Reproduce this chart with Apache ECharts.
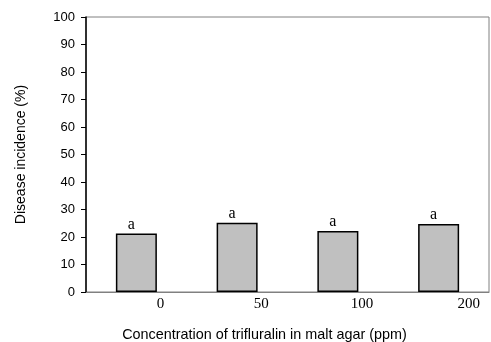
<!DOCTYPE html>
<html>
<head>
<meta charset="utf-8">
<script src="https://cdn.jsdelivr.net/npm/echarts@6/dist/echarts.min.js"></script>
<style>
  html, body { margin: 0; padding: 0; background: #fff; }
  #chart { width: 491px; height: 342px; }
</style>
</head>
<body>
<div id="chart"></div>
<script>
// concentrations (ppm) and disease incidence (%)
var concentrations = ['0', '50', '100', '200'];
var incidence = [21.3, 25.2, 22.2, 24.7];
var letters = ['a', 'a', 'a', 'a'];
var yTicks = [0, 10, 20, 30, 40, 50, 60, 70, 80, 90, 100];

var chart = echarts.init(document.getElementById('chart'));
var options = {
    animation: false,
    grid: {
        left: 86,
        right: 2,
        top: 17,
        bottom: 50,
        outerBoundsMode: 'none',
        containLabel: false,
        show: true,
        borderColor: '#808080',
        borderWidth: 1
    },
    xAxis: {
        type: 'category',
        data: concentrations,
        name: 'Concentration of trifluralin in malt agar (ppm)',
        nameLocation: 'middle',
        nameGap: 36,
        nameTextStyle: {
            fontFamily: 'Liberation Sans',
            fontSize: 14.4,
            color: '#000',
            padding: [0, 46, 0, 0]
        },
        axisLine: { lineStyle: { color: '#808080', width: 1 } },
        axisTick: { show: false },
        axisLabel: {
            margin: 5,
            fontFamily: 'Liberation Serif',
            fontSize: 15,
            color: '#000',
            formatter: function (v, i) {
                return i === concentrations.length - 1 ? '{e|' + v + '}' : '{n|' + v + '}';
            },
            rich: {
                n: { fontFamily: 'Liberation Serif', fontSize: 15, color: '#000', padding: [0, 0, 0, 48] },
                e: { fontFamily: 'Liberation Serif', fontSize: 15, color: '#000', padding: [0, 0, 0, 60] }
            }
        }
    },
    yAxis: {
        type: 'value',
        min: 0,
        max: 100,
        interval: 10,
        name: 'Disease incidence (%)',
        nameLocation: 'middle',
        nameGap: 58,
        nameTextStyle: {
            fontFamily: 'Liberation Sans',
            fontSize: 14,
            color: '#000'
        },
        axisLine: { show: true, lineStyle: { color: '#000', width: 1.5 } },
        axisTick: { show: true, length: 5, lineStyle: { color: '#000' } },
        splitLine: { show: false },
        axisLabel: {
            margin: 11,
            fontFamily: 'Liberation Sans',
            fontSize: 13,
            color: '#000',
            formatter: function (v) { return yTicks.indexOf(v) >= 0 ? String(v) : ''; }
        }
    },
    series: [{
        type: 'bar',
        data: incidence,
        barWidth: 41,
        itemStyle: {
            color: '#c0c0c0',
            borderColor: '#000',
            borderWidth: 1.5
        },
        label: {
            show: true,
            position: 'top',
            distance: 1,
            offset: [-5, 0],
            fontFamily: 'Liberation Serif',
            fontSize: 16,
            color: '#000',
            formatter: function (p) { return letters[p.dataIndex]; }
        }
    }]
};
chart.setOption(options);
</script>
</body>
</html>
